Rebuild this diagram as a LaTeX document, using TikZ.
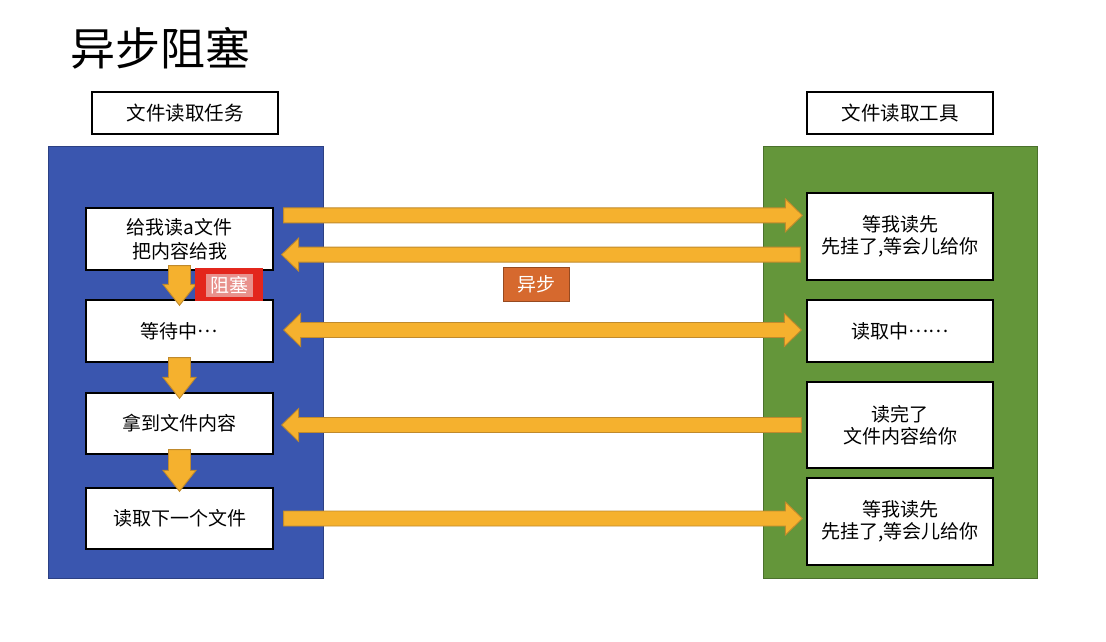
\documentclass[tikz,border=0pt]{standalone}
\usepackage{fontspec}
\setmainfont{Noto Sans CJK SC}
\usetikzlibrary{calc,positioning}

\definecolor{taskblue}{HTML}{3A56AF}
\definecolor{toolgreen}{HTML}{64963A}
\definecolor{arrowfill}{HTML}{F5B12E}
\definecolor{arrowedge}{HTML}{C08A2C}
\definecolor{asyncorange}{HTML}{D6692E}
\definecolor{blockred}{HTML}{E3261C}
\definecolor{blockpink}{HTML}{E8918C}

\newcommand{\middots}{\raisebox{0.32em}{…}}

\tikzset{
    % block arrow, head at the target: half shaft, half head, head length
    fat/.style n args={3}{to path={
        ($(\tikztostart)!#1!90:(\tikztotarget)$)
        -- ($($(\tikztotarget)!#3!(\tikztostart)$)!#1!90:(\tikztotarget)$)
        -- ($($(\tikztotarget)!#3!(\tikztostart)$)!#2!90:(\tikztotarget)$)
        -- (\tikztotarget)
        -- ($($(\tikztotarget)!#3!(\tikztostart)$)!#2!-90:(\tikztotarget)$)
        -- ($($(\tikztotarget)!#3!(\tikztostart)$)!#1!-90:(\tikztotarget)$)
        -- ($(\tikztostart)!#1!-90:(\tikztotarget)$) -- cycle}},
    % block arrow with a head at both ends
    fatboth/.style n args={3}{to path={
        (\tikztostart)
        -- ($($(\tikztostart)!#3!(\tikztotarget)$)!#2!90:(\tikztotarget)$)
        -- ($($(\tikztostart)!#3!(\tikztotarget)$)!#1!90:(\tikztotarget)$)
        -- ($($(\tikztotarget)!#3!(\tikztostart)$)!#1!-90:(\tikztostart)$)
        -- ($($(\tikztotarget)!#3!(\tikztostart)$)!#2!-90:(\tikztostart)$)
        -- (\tikztotarget)
        -- ($($(\tikztotarget)!#3!(\tikztostart)$)!#2!90:(\tikztostart)$)
        -- ($($(\tikztotarget)!#3!(\tikztostart)$)!#1!90:(\tikztostart)$)
        -- ($($(\tikztostart)!#3!(\tikztotarget)$)!#1!-90:(\tikztotarget)$)
        -- ($($(\tikztostart)!#3!(\tikztotarget)$)!#2!-90:(\tikztotarget)$)
        -- cycle}},
}

\begin{document}
\begin{tikzpicture}[x=1pt,y=-1pt,
    panel/.style={draw=#1!75!black, fill=#1, line width=1pt},
    headbox/.style={draw=black, fill=white, line width=1.3pt, minimum width=186pt,
        minimum height=42pt, inner sep=0pt, font=\fontsize{19.5}{24}\selectfont},
    stepbox/.style={draw=black, fill=white, line width=1.3pt, minimum width=187pt,
        minimum height=62pt, inner sep=0pt, align=center, font=\fontsize{19}{24}\selectfont},
    toolbox/.style={draw=black, fill=white, line width=1.3pt, minimum width=186pt,
        minimum height=62pt, inner sep=0pt, align=center, font=\fontsize{19}{22}\selectfont},
    bigarrow/.style={draw=arrowedge, fill=arrowfill, line width=0.9pt, line join=miter},
    tag/.style={text=white, inner sep=0pt, font=\fontsize{19}{22}\selectfont}]

    \useasboundingbox (0,0) rectangle (1106,641);

    \node[font=\fontsize{45}{50}\selectfont] (title) at (160,48) {异步阻塞};
    \node[headbox] (taskhead) at (185,113) {文件读取任务};
    \node[headbox] (toolhead) at (900,113) {文件读取工具};

    % the two sides
    \draw[panel=taskblue] (48,146) rectangle (323,578);
    \draw[panel=toolgreen] (763,146) rectangle (1037,578);

    \node[stepbox] (ask) at (179.5,239) {给我读a文件\\把内容给我};
    \node[stepbox] (wait) at (179.5,331) {等待中\middots};
    \node[stepbox, minimum height=61pt] (got) at (179.5,423.5) {拿到文件内容};
    \node[stepbox, minimum height=61pt] (next) at (179.5,518.5) {读取下一个文件};

    \node[toolbox, minimum height=87pt] (later) at (900,236.5) {等我读先\\先挂了,等会儿给你};
    \node[toolbox] (reading) at (900,331) {读取中\middots\middots};
    \node[toolbox, minimum height=86pt] (done) at (900,425) {读完了\\文件内容给你};
    \node[toolbox, minimum height=87pt] (laterb) at (900,521.5) {等我读先\\先挂了,等会儿给你};

    % ends of the long arrows
    \coordinate (a1) at ([shift={(10,8)}]ask.north east);
    \coordinate (a1e) at ($(a1 -| later.west)+(-4,0)$);
    \coordinate (a2) at ([shift={(8,-16)}]ask.south east);
    \coordinate (a2e) at ($(a2 -| later.west)+(-6,0)$);
    \coordinate (a3) at ([shift={(10,-1)}]wait.east);
    \coordinate (a3e) at ($(a3 -| reading.west)+(-5,0)$);
    \coordinate (a4) at ([shift={(8,1.5)}]got.east);
    \coordinate (a4e) at ($(a4 -| done.west)+(-5,0)$);
    \coordinate (a5) at ([shift={(10,0)}]next.east);
    \coordinate (a5e) at ($(a5 -| laterb.west)+(-4,0)$);

    \draw[bigarrow, fat={7.5pt}{16.5pt}{17pt}] (a1) to (a1e);
    \draw[bigarrow, fat={7.5pt}{16.5pt}{17pt}] (a2e) to (a2);
    \draw[bigarrow, fatboth={7.5pt}{16.5pt}{17pt}] (a3) to (a3e);
    \draw[bigarrow, fat={7.5pt}{16.5pt}{17pt}] (a4e) to (a4);
    \draw[bigarrow, fat={7.5pt}{16.5pt}{17pt}] (a5) to (a5e);

    % steps down the task side
    \draw[bigarrow, fat={11pt}{16.5pt}{21pt}] ([yshift=5pt]ask.south) to ([yshift=-6pt]wait.north);
    \draw[bigarrow, fat={11pt}{16.5pt}{21pt}] ([yshift=5pt]wait.south) to ([yshift=-6pt]got.north);
    \draw[bigarrow, fat={11pt}{16.5pt}{21pt}] ([yshift=5pt]got.south) to ([yshift=-4pt]next.north);

    % labels
    \node[draw=blockred, fill=blockred, minimum width=67pt, minimum height=32pt, inner sep=0pt] (block) at (228.5,284) {};
    \node[tag, fill=blockpink, minimum width=47pt, minimum height=23pt] (blocktext) at (229.5,285.5) {阻塞};
    \node[tag, draw=asyncorange!70!black, fill=asyncorange, line width=1pt, minimum width=66pt, minimum height=34pt] (async) at (536.5,284.5) {异步};
\end{tikzpicture}
\end{document}
